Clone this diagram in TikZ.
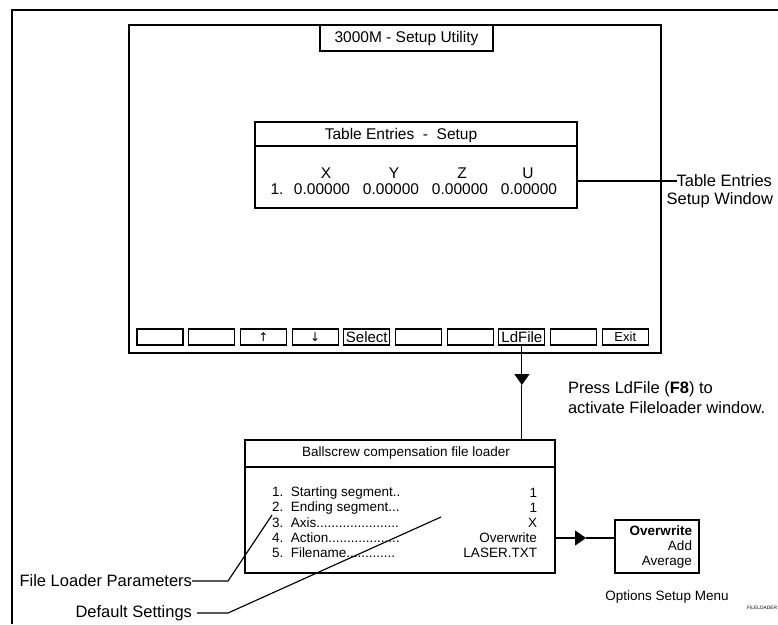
\documentclass[tikz,border=0pt]{standalone}
\usepackage{fontspec}
\setmainfont{Liberation Sans}
\newfontfamily\symfont{DejaVu Sans}
\usetikzlibrary{arrows.meta,calc}
\newcommand\fsz[1]{\fontsize{#1}{#1}\selectfont}
\begin{document}
\begin{tikzpicture}[x=1pt,y=-1pt,line width=1.15pt,
  box/.style={draw,rectangle,inner sep=0pt,outer sep=0pt,anchor=north west},
  btn/.style={draw,rectangle,inner sep=0pt,outer sep=0pt,anchor=north west,minimum width=46pt,minimum height=16pt,font=\fsz{15}},
  txt/.style={inner sep=0pt,outer sep=0pt},
  wintxt/.style={txt,font=\fsz{15.5}},
  fltxt/.style={txt,font=\fsz{13.5}},
  callout/.style={txt,font=\fsz{16.5}},
  tip/.style={-{Triangle[length=11pt,width=15pt]}}]
\useasboundingbox (0,0) rectangle (778,624);
% outer frame
\draw[line width=1.4pt] (12,624) -- (12,10) -- (778,10);
% main window
\node[box,minimum width=532pt,minimum height=328pt] (main) at (129,25) {};
\node[box,minimum width=173pt,minimum height=26pt] (ttl) at (320,25) {};
\node[wintxt] (ttltxt) at (406.5,38.5) {3000M - Setup Utility};
% table entries window
\node[box,minimum width=322pt,minimum height=86pt] (tab) at (255,122) {};
\draw ($(tab.north west)+(0,24)$) -- ($(tab.north east)+(0,24)$);
\node[wintxt] (tabttl) at (401,135) {Table Entries\ \ -\ \ Setup};
\node[wintxt] (hx) at (326,173) {X};
\node[wintxt] (hy) at (394,173) {Y};
\node[wintxt] (hz) at (462,173) {Z};
\node[wintxt] (hu) at (528,173) {U};
\node[wintxt] (r1) at (277,189) {1.};
\node[wintxt] (vx) at (322,189) {0.00000};
\node[wintxt] (vy) at (391,189) {0.00000};
\node[wintxt] (vz) at (460,189) {0.00000};
\node[wintxt] (vu) at (529,189) {0.00000};
% buttons
\node[btn] (b1) at (137,329) {};
\node[btn] (b2) at (188.7,329) {};
\node[btn] (b3) at (240.4,329) {\symfont\fsz{12}↑};
\node[btn] (b4) at (292.1,329) {\symfont\fsz{12}↓};
\node[btn] (b5) at (343.8,329) {Select};
\node[btn] (b6) at (395.5,329) {};
\node[btn] (b7) at (447.2,329) {};
\node[btn] (b8) at (498.9,329) {LdFile};
\node[btn] (b9) at (550.6,329) {};
\node[btn,font=\fsz{13}] (b10) at (602.3,329) {Exit};
% table entries callout
\node[callout,anchor=east] (tl1) at (772,181) {Table Entries};
\node[callout,anchor=east] (tl2) at (773,200) {Setup Window};
\draw (tab.east |- tl1.west) -- (tl1.west);
% file loader window
\node[box,minimum width=310pt,minimum height=133pt] (fl) at (245,440) {};
\draw ($(fl.north west)+(0,27)$) -- ($(fl.north east)+(0,27)$);
\node[fltxt] (flttl) at (406,453) {Ballscrew compensation file loader};
\node[fltxt,anchor=west] (f1) at (272,493) {1.\ \ Starting segment..};
\node[fltxt,anchor=west] (f2) at (272,508) {2.\ \ Ending segment...};
\node[fltxt,anchor=west] (f3) at (272,523) {3.\ \ Axis......................};
\node[fltxt,anchor=west] (f4) at (272,538) {4.\ \ Action...................};
\node[fltxt,anchor=west] (f5) at (272,553) {5.\ \ Filename.............};
\node[fltxt,anchor=east] (v1) at (537,493) {1};
\node[fltxt,anchor=east] (v2) at (537,508) {1};
\node[fltxt,anchor=east] (v3) at (537,523) {X};
\node[fltxt,anchor=east] (v4) at (537,538) {Overwrite};
\node[fltxt,anchor=east] (v5) at (537,553) {LASER.TXT};
% LdFile arrow
\coordinate (dtip) at ($(b8.south)+(0,40)$);
\draw[tip] (b8.south) -- (dtip);
\draw (dtip) -- (b8.south |- fl.north);
\node[callout,anchor=west,align=left,font=\fontsize{16.5}{20}\selectfont] (press) at (568,398) {Press LdFile (\textbf{F8}) to\\activate Fileloader window.};
% options menu
\node[box,minimum width=84pt,minimum height=53pt] (opt) at (615,520) {};
\node[fltxt,anchor=east] (o1) at (692,531) {\textbf{Overwrite}};
\node[fltxt,anchor=east] (o2) at (692,546) {Add};
\node[fltxt,anchor=east] (o3) at (692,562) {Average};
\coordinate (rtip) at ($(fl.east |- v4.east)+(31,0)$);
\draw[tip] (fl.east |- v4.east) -- (rtip);
\draw (rtip) -- (opt.west |- v4.east);
\node[fltxt] (optlab) at (667,597) {Options Setup Menu};
% bottom callouts
\node[callout,anchor=east] (flp) at (192,581) {File Loader Parameters};
\node[callout,anchor=east] (ds) at (192,613) {Default Settings};
\coordinate (p1) at (272,515);
\coordinate (p2) at (441,517);
\draw (flp.east) -- ++(36,0) -- (p1);
\draw ([xshift=5pt]ds.east) -- ++(31,0) -- (p2);
\node[txt,anchor=east,font=\fsz{4.8}] (tag) at (777,608) {FILELOADER};
\end{tikzpicture}
\end{document}
